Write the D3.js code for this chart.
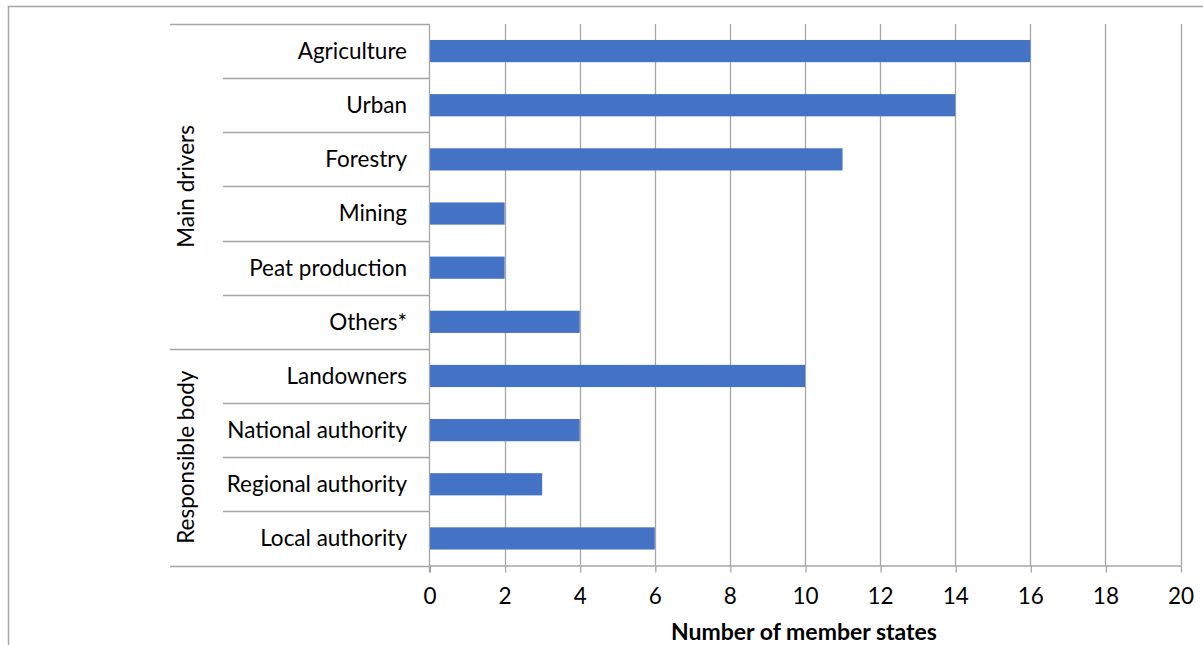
<!DOCTYPE html>
<html>
<head>
<meta charset="utf-8">
<script src="https://cdn.jsdelivr.net/npm/d3@7"></script>
<style>
  html, body { margin: 0; padding: 0; background: #fff; }
  svg { display: block; font-family: Lato, "Open Sans", sans-serif; }
</style>
</head>
<body>
<svg id="chart" width="1203" height="645"></svg>
<script>
// Drivers of peatland loss and bodies responsible, by number of member states
const categories = ["Agriculture", "Urban", "Forestry", "Mining", "Peat production", "Others*",
                    "Landowners", "National authority", "Regional authority", "Local authority"];
const values = [16, 14, 11, 2, 2, 4, 10, 4, 3, 6];
const groups = ["Main drivers", "Responsible body"];
const groupMembers = [
  ["Agriculture", "Urban", "Forestry", "Mining", "Peat production", "Others*"],
  ["Landowners", "National authority", "Regional authority", "Local authority"]
];
const xTicks = [0, 2, 4, 6, 8, 10, 12, 14, 16, 18, 20];
const xTitle = "Number of member states";

const svg = d3.select("#chart");
const gridColor = "#a6a6a6";
const barColor = "#4472c4";
const labelSize = 22.5;

const plot = { left: 429.5, right: 1180.5, top: 24, bottom: 565.5 };
const innerLineX = 223, groupLineX = 170;

const x = d3.scaleLinear().domain([0, 20]).range([plot.left, plot.right]);
const y = d3.scaleBand().domain(categories).range([plot.top, plot.bottom])
  .paddingInner(0.59).paddingOuter(0.295);

// outer frame
svg.append("path")
  .attr("d", `M1203,6.5 H8.5 V645`)
  .attr("fill", "none").attr("stroke", gridColor).attr("stroke-width", 1.5);

// vertical gridlines
svg.append("g").selectAll("line").data(xTicks.slice(1)).join("line")
  .attr("x1", d => Math.round(x(d)) + 0.5).attr("x2", d => Math.round(x(d)) + 0.5)
  .attr("y1", plot.top).attr("y2", plot.bottom)
  .attr("stroke", gridColor).attr("stroke-width", 1.3);

// bars
svg.append("g").selectAll("rect").data(categories).join("rect")
  .attr("x", x(0))
  .attr("y", d => y(d))
  .attr("width", (d, i) => x(values[i]) - x(0))
  .attr("height", y.bandwidth())
  .attr("fill", barColor);

// x axis
const xAxis = d3.axisBottom(x).tickValues(xTicks).tickSize(7).tickPadding(16).tickSizeOuter(0);
const gx = svg.append("g").attr("transform", `translate(0,${plot.bottom})`).call(xAxis);
gx.select(".domain").attr("stroke", gridColor).attr("stroke-width", 1.3);
gx.selectAll(".tick line").attr("stroke", gridColor).attr("stroke-width", 1.3)
  .attr("transform", "translate(0.5,0)");
gx.selectAll(".tick text").attr("font-size", labelSize).attr("fill", "#000")
  .attr("font-family", "Lato, sans-serif");

// category axis line
svg.append("line")
  .attr("x1", plot.left).attr("x2", plot.left)
  .attr("y1", plot.top).attr("y2", plot.bottom + 7)
  .attr("stroke", gridColor).attr("stroke-width", 1.3);

// category separators: inner lines between categories, longer lines between groups
const step = y.step();
const boundaries = d3.range(categories.length + 1).map(i => plot.top + i * step);
let groupBreaks = [0];
groupMembers.reduce((acc, g) => { acc += g.length; groupBreaks.push(acc); return acc; }, 0);
svg.append("g").selectAll("line").data(boundaries).join("line")
  .attr("x1", (d, i) => groupBreaks.includes(i) ? groupLineX : innerLineX)
  .attr("x2", plot.left)
  .attr("y1", d => Math.round(d) + 0.5).attr("y2", d => Math.round(d) + 0.5)
  .attr("stroke", gridColor).attr("stroke-width", 1.3);

// category labels
svg.append("g").selectAll("text").data(categories).join("text")
  .attr("x", 407)
  .attr("y", d => y(d) + y.bandwidth() / 2)
  .attr("dy", "0.35em")
  .attr("text-anchor", "end")
  .attr("font-size", labelSize)
  .attr("fill", "#000")
  .text(d => d);

// group labels, rotated
svg.append("g").selectAll("text").data(groups).join("text")
  .attr("transform", (d, i) => {
    const cy = (boundaries[groupBreaks[i]] + boundaries[groupBreaks[i + 1]]) / 2;
    return `translate(186,${cy}) rotate(-90)`;
  })
  .attr("dy", "0.35em")
  .attr("text-anchor", "middle")
  .attr("font-size", labelSize)
  .attr("fill", "#000")
  .text(d => d);

// x axis title
svg.append("text")
  .attr("x", (plot.left + plot.right) / 2 - 1)
  .attr("y", 640)
  .attr("text-anchor", "middle")
  .attr("font-size", 23)
  .attr("font-weight", "bold")
  .attr("fill", "#000")
  .text(xTitle);
</script>
</body>
</html>
